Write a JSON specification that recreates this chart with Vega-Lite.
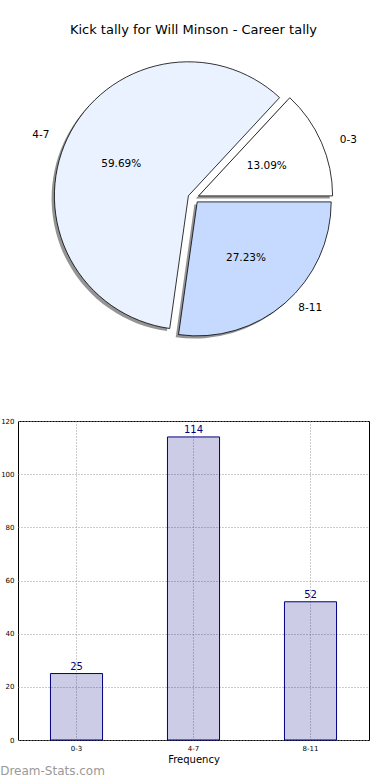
{
  "$schema": "https://vega.github.io/schema/vega-lite/v6.json",
  "padding": {"left": 0, "top": 24, "right": 0, "bottom": 0},
  "config": {"font": "DejaVu Sans", "view": {"stroke": null}},
  "title": {"text": "Dream-Stats.com", "orient": "bottom", "anchor": "start", "frame": "bounds", "fontSize": 12, "fontWeight": "normal", "color": "#999999", "offset": 1},
  "datasets": {
    "kicks": [
      {"range": "0-3", "count": 25, "pct": "13.09%"},
      {"range": "4-7", "count": 114, "pct": "59.69%"},
      {"range": "8-11", "count": 52, "pct": "27.23%"}
    ]
  },
  "spacing": 73,
  "vconcat": [
    {
      "width": 351,
      "height": 290,
      "title": {"text": "Kick tally for Will Minson - Career tally", "fontSize": 13, "fontWeight": "normal", "color": "black", "offset": 16, "anchor": "middle"},
      "data": {"name": "kicks"},
      "transform": [{"stack": "count", "groupby": [], "as": ["t0", "t1"], "sort": [{"field": "range", "order": "ascending"}]}],
      "layer": [
        {
          "transform": [{"filter": "datum.range === '0-3'"}],
          "mark": {"type": "arc", "radius": 134, "fill": "#4d4d4d", "opacity": 0.6, "xOffset": 2.3, "yOffset": 0.5},
          "encoding": {
            "theta": {"field": "t0", "type": "quantitative", "scale": {"domain": [0, 191], "range": [1.5707963, -4.712389]}},
            "theta2": {"field": "t1"}
          }
        },
        {
          "transform": [{"filter": "datum.range === '0-3'"}],
          "mark": {"type": "arc", "radius": 134, "fill": "#ffffff", "stroke": "black", "strokeWidth": 0.8, "xOffset": 5.1, "yOffset": -2.1},
          "encoding": {
            "theta": {"field": "t0", "type": "quantitative", "scale": {"domain": [0, 191], "range": [1.5707963, -4.712389]}},
            "theta2": {"field": "t1"}
          }
        },
        {
          "transform": [{"filter": "datum.range === '4-7'"}],
          "mark": {"type": "arc", "radius": 134, "fill": "#4d4d4d", "opacity": 0.6, "xOffset": -7.9, "yOffset": 0.4},
          "encoding": {
            "theta": {"field": "t0", "type": "quantitative", "scale": {"domain": [0, 191], "range": [1.5707963, -4.712389]}},
            "theta2": {"field": "t1"}
          }
        },
        {
          "transform": [{"filter": "datum.range === '4-7'"}],
          "mark": {"type": "arc", "radius": 134, "fill": "#eaf1ff", "stroke": "black", "strokeWidth": 0.8, "xOffset": -5.1, "yOffset": -2.2},
          "encoding": {
            "theta": {"field": "t0", "type": "quantitative", "scale": {"domain": [0, 191], "range": [1.5707963, -4.712389]}},
            "theta2": {"field": "t1"}
          }
        },
        {
          "transform": [{"filter": "datum.range === '8-11'"}],
          "mark": {"type": "arc", "radius": 134, "fill": "#4d4d4d", "opacity": 0.6, "xOffset": 0.9, "yOffset": 6.5},
          "encoding": {
            "theta": {"field": "t0", "type": "quantitative", "scale": {"domain": [0, 191], "range": [1.5707963, -4.712389]}},
            "theta2": {"field": "t1"}
          }
        },
        {
          "transform": [{"filter": "datum.range === '8-11'"}],
          "mark": {"type": "arc", "radius": 134, "fill": "#c6daff", "stroke": "black", "strokeWidth": 0.8, "xOffset": 3.7, "yOffset": 3.9},
          "encoding": {
            "theta": {"field": "t0", "type": "quantitative", "scale": {"domain": [0, 191], "range": [1.5707963, -4.712389]}},
            "theta2": {"field": "t1"}
          }
        },
        {
          "mark": {"type": "text", "radius": 147, "fontSize": 10.5, "align": "left", "baseline": "middle", "color": "black", "dx": 11.6, "dy": 0.5},
          "encoding": {
            "theta": {"field": "count", "type": "quantitative", "stack": true, "scale": {"domain": [0, 191], "range": [1.5707963, -4.712389]}},
            "order": {"field": "range", "type": "ordinal", "sort": "ascending"},
            "text": {"condition": {"test": "datum.range === '0-3'", "field": "range", "type": "nominal"}, "value": ""}
          }
        },
        {
          "mark": {"type": "text", "radius": 147, "fontSize": 10.5, "align": "right", "baseline": "middle", "color": "black", "dx": -11.4, "dy": 0.5},
          "encoding": {
            "theta": {"field": "count", "type": "quantitative", "stack": true, "scale": {"domain": [0, 191], "range": [1.5707963, -4.712389]}},
            "order": {"field": "range", "type": "ordinal", "sort": "ascending"},
            "text": {"condition": {"test": "datum.range === '4-7'", "field": "range", "type": "nominal"}, "value": ""}
          }
        },
        {
          "mark": {"type": "text", "radius": 147, "fontSize": 10.5, "align": "left", "baseline": "middle", "color": "black", "dx": 8.3, "dy": -0.8},
          "encoding": {
            "theta": {"field": "count", "type": "quantitative", "stack": true, "scale": {"domain": [0, 191], "range": [1.5707963, -4.712389]}},
            "order": {"field": "range", "type": "ordinal", "sort": "ascending"},
            "text": {"condition": {"test": "datum.range === '8-11'", "field": "range", "type": "nominal"}, "value": ""}
          }
        },
        {
          "mark": {"type": "text", "radius": 80, "fontSize": 10.5, "align": "center", "baseline": "middle", "color": "black"},
          "encoding": {
            "theta": {"field": "count", "type": "quantitative", "stack": true, "scale": {"domain": [0, 191], "range": [1.5707963, -4.712389]}},
            "order": {"field": "range", "type": "ordinal", "sort": "ascending"},
            "text": {"field": "pct", "type": "nominal"}
          }
        }
      ]
    },
    {
      "width": 351,
      "height": 319,
      "view": {"stroke": "black", "strokeWidth": 1},
      "data": {"name": "kicks"},
      "encoding": {
        "x": {
          "field": "range", "type": "nominal",
          "scale": {"paddingInner": 0.555, "paddingOuter": 0.2775},
          "axis": {"title": "Frequency", "labelAngle": 0, "labelFontSize": 7, "labelColor": "black", "titleFontSize": 10, "titleFontWeight": "normal", "titleColor": "black", "grid": true, "gridDash": [1, 2], "gridColor": "#999999", "ticks": false, "domain": false, "bandPosition": 0.5, "labelPadding": 4, "titlePadding": 3}
        },
        "y": {
          "field": "count", "type": "quantitative",
          "scale": {"domain": [0, 120]},
          "axis": {"title": null, "values": [0, 20, 40, 60, 80, 100, 120], "labelFontSize": 7, "labelColor": "black", "grid": true, "gridDash": [1, 2], "gridColor": "#999999", "ticks": false, "domain": false, "labelPadding": 4}
        }
      },
      "layer": [
        {"mark": {"type": "bar", "fill": "#000080", "fillOpacity": 0.2, "stroke": "#000080", "strokeWidth": 1}},
        {"mark": {"type": "text", "dy": -4, "baseline": "alphabetic", "color": "#000080", "fontSize": 10}, "encoding": {"text": {"field": "count", "type": "quantitative"}}}
      ]
    }
  ]
}
